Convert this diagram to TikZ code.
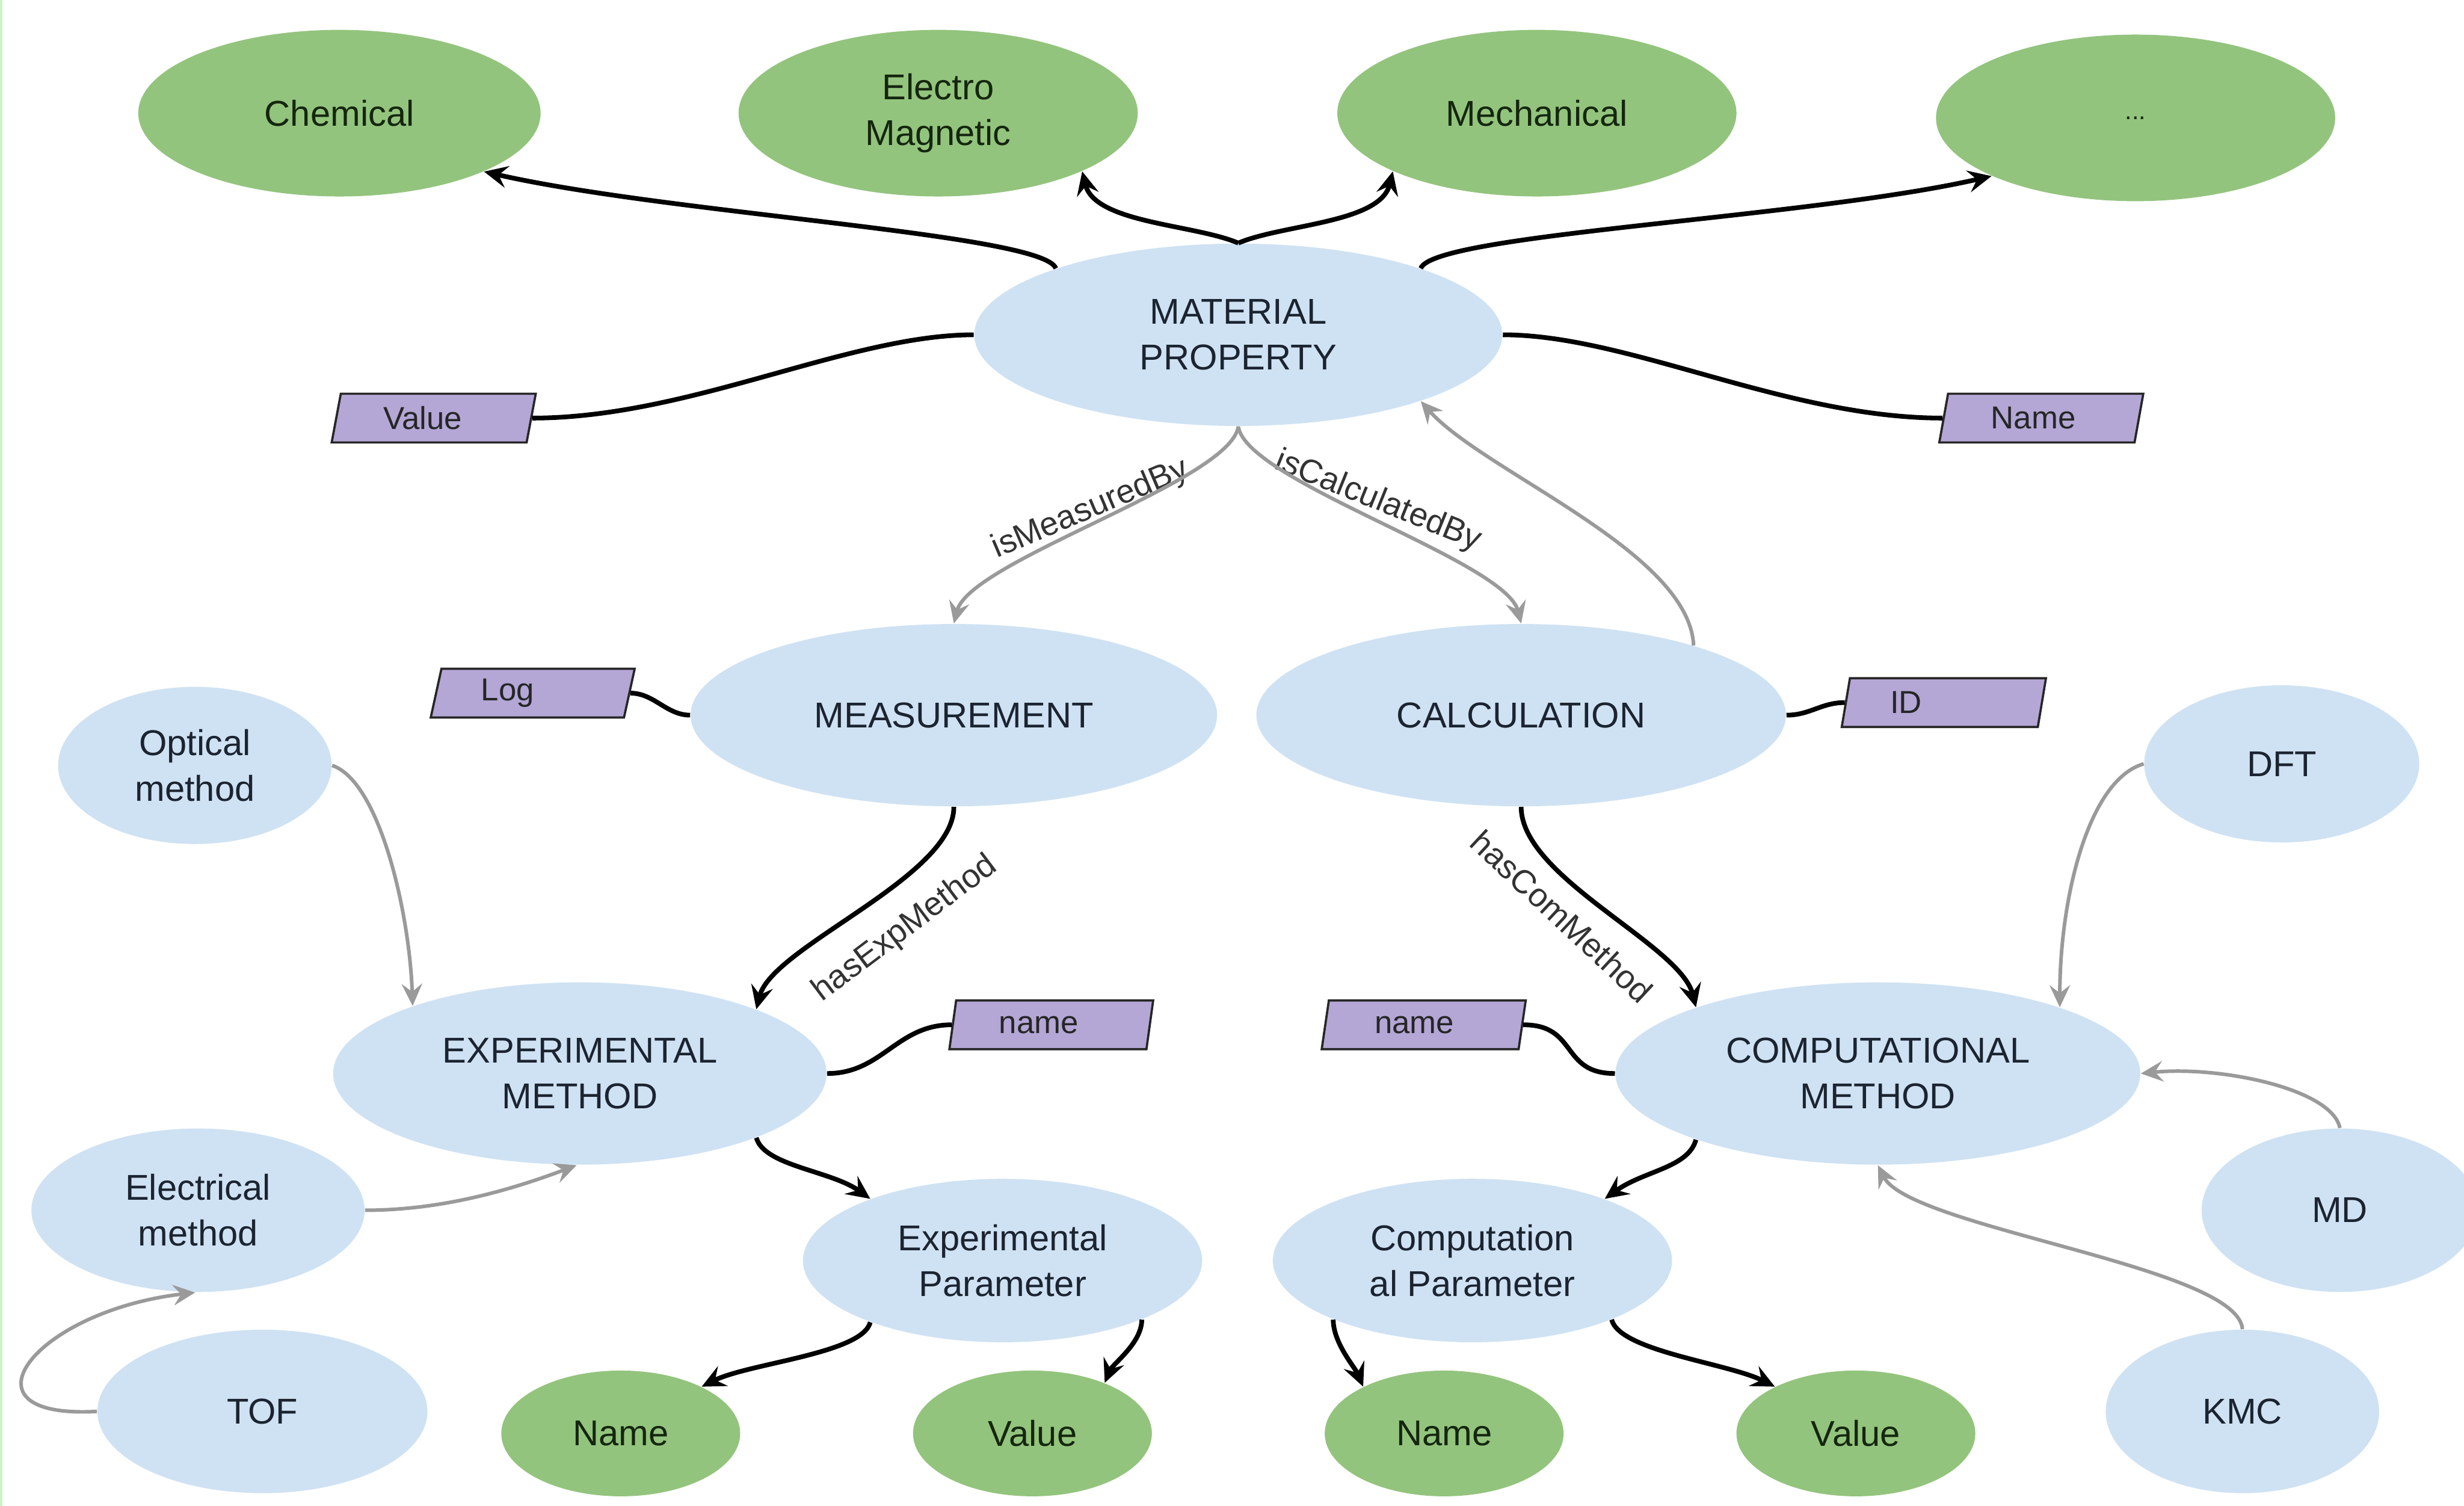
\documentclass[tikz,border=0pt]{standalone}
\usepackage{fontspec}
\setmainfont{Liberation Sans}
\usetikzlibrary{shapes.geometric,arrows.meta}
\definecolor{gfill}{HTML}{93C47D}
\definecolor{bfill}{HTML}{CFE2F3}
\definecolor{pfill}{HTML}{B4A7D6}
\definecolor{garr}{HTML}{9A9A9A}
\definecolor{txt}{HTML}{1B2430}
\definecolor{gtxt}{HTML}{15260F}
\definecolor{edgeline}{HTML}{C8F2C8}
\begin{document}
\begin{tikzpicture}[x=0.2mm,y=-0.2mm,
  every node/.style={font=\fontsize{13}{16.5}\selectfont, text=txt, align=center, inner sep=0pt},
  gell/.style 2 args={ellipse, fill=gfill, text=gtxt, minimum width=#1*0.2mm, minimum height=#2*0.2mm},
  bell/.style 2 args={ellipse, fill=bfill, minimum width=#1*0.2mm, minimum height=#2*0.2mm},
  pbox/.style={trapezium, trapezium left angle=78, trapezium right angle=102,
    trapezium stretches=true, fill=pfill, draw=black!85, line width=0.8pt,
    minimum width=26mm, minimum height=6.2mm, font=\fontsize{11.5}{13}\selectfont, text=black!85},
  blk/.style={draw=black, line width=1.7pt},
  blkarr/.style={blk, -{Stealth[length=3mm,width=2.8mm,inset=1.1mm]}},
  gry/.style={draw=garr, line width=1.3pt},
  gryarr/.style={gry, -{Stealth[length=2.8mm,width=2.6mm,inset=1mm]}},
  lbl/.style={font=\fontsize{12}{14}\selectfont, text=black!80}
]
\useasboundingbox (0,0) rectangle (1568,958);
\fill[white] (0,0) rectangle (1568,958);
\draw[edgeline, line width=1pt] (0.8,0) -- (0.8,958);

% green property ellipses
\node[gell={256}{106}] (chem) at (216,72) {Chemical};
\node[gell={254}{106}] (em) at (597,72) {Electro\\Magnetic};
\node[gell={254}{106}] (mech) at (978,72) {Mechanical};
\node[gell={254}{106}] (dots) at (1359,75) {\fontsize{9}{10}\selectfont ...};

% blue ellipses
\node[bell={336}{116}] (mp) at (788,213) {MATERIAL\\PROPERTY};
\node[bell={335}{116}] (meas) at (607,455) {MEASUREMENT};
\node[bell={337}{116}] (calc) at (968,455) {CALCULATION};
\node[bell={174}{100}] (opt) at (124,487) {Optical\\method};
\node[bell={175}{100}] (dft) at (1452,486) {DFT};
\node[bell={314}{116}] (expm) at (369,683) {EXPERIMENTAL\\METHOD};
\node[bell={334}{116}] (compm) at (1195,683) {COMPUTATIONAL\\METHOD};
\node[bell={212}{104}] (elec) at (126,770) {Electrical\\method};
\node[bell={176}{104}] (md) at (1489,770) {MD};
\node[bell={174}{104}] (kmc) at (1427,898) {KMC};
\node[bell={210}{104}] (tof) at (167,898) {TOF};
\node[bell={254}{104}] (ep) at (638,802) {Experimental\\Parameter};
\node[bell={254}{104}] (cp) at (937,802) {Computation\\al Parameter};

% green leaf ellipses
\node[gell={152}{80}] (nm1) at (395,912) {Name};
\node[gell={152}{80}] (v1) at (657,912) {Value};
\node[gell={152}{80}] (nm2) at (919,912) {Name};
\node[gell={152}{80}] (v2) at (1181,912) {Value};

% purple attribute boxes
\node[pbox] (pval) at (276,266) {Value\hspace{2.8mm}};
\node[pbox] (pname) at (1299,266) {Name\hspace{2mm}};
\node[pbox] (plog) at (339,441) {Log\hspace{6.4mm}};
\node[pbox] (pid) at (1237,447) {ID\hspace{9.6mm}};
\node[pbox] (enm) at (669,652) {name\hspace{3.2mm}};
\node[pbox] (cnm) at (906,652) {name\hspace{2.4mm}};

% edge labels
\node[lbl, rotate=23] (lmeas) at (694,324) {isMeasuredBy};
\node[lbl, rotate=-22] (lcalc) at (877,319) {isCalculatedBy};
\node[lbl, rotate=37] (lexp) at (576,591) {hasExpMethod};
\node[lbl, rotate=-43] (lcom) at (994,583) {hasComMethod};

% black connectors from MATERIAL PROPERTY
\draw[blkarr] (mp.160) .. controls +(-8,-22) and +(118,27) .. (chem.-22);
\draw[blkarr] (mp.north) .. controls +(-28,-12) and +(8,33) .. (em.-22);
\draw[blkarr] (mp.north) .. controls +(28,-12) and +(-8,33) .. (mech.202);
\draw[blkarr] (mp.20) .. controls +(8,-22) and +(-118,27) .. (dots.202);
\draw[blk] (mp.west) .. controls +(-80,0) and +(100,0) .. (pval.east);
\draw[blk] (mp.east) .. controls +(80,0) and +(-100,0) .. (pname.west);

% gray relations
\draw[gryarr] (mp.south) .. controls +(-5,35) and +(10,-40) .. (meas.north);
\draw[gryarr] (mp.south) .. controls +(5,35) and +(-10,-40) .. (calc.north);
\draw[gryarr] (calc.22) .. controls +(-3,-60) and +(40,45) .. (mp.-20);

% black method connectors
\draw[blkarr] (meas.south) .. controls +(0,45) and +(10,-40) .. (expm.20);
\draw[blkarr] (calc.south) .. controls +(0,45) and +(-10,-40) .. (compm.160);
\draw[blk] (expm.east) .. controls +(35,0) and +(-35,0) .. (enm.west);
\draw[blk] (compm.west) .. controls +(-35,0) and +(35,0) .. (cnm.east);
\draw[blk] (meas.west) .. controls +(-15,0) and +(15,0) .. (plog.east);
\draw[blk] (calc.east) .. controls +(15,0) and +(-15,0) .. (pid.west);
\draw[blkarr] (expm.-20) .. controls +(5,18) and +(-25,-18) .. (ep.155);
\draw[blkarr] (compm.200) .. controls +(-5,18) and +(25,-18) .. (cp.25);
\draw[blkarr] (ep.205) .. controls +(-5,20) and +(30,-15) .. (nm1.30);
\draw[blkarr] (ep.-23) .. controls +(0,15) and +(5,-12) .. (v1.35);
\draw[blkarr] (cp.203) .. controls +(0,15) and +(-5,-12) .. (nm2.150);
\draw[blkarr] (cp.-23) .. controls +(5,20) and +(-30,-15) .. (v2.150);

% gray method instances
\draw[gryarr] (opt.east) .. controls +(30,10) and +(-2,-60) .. (expm.158);
\draw[gryarr] (elec.east) .. controls +(50,0) and +(-40,15) .. (expm.-92);
\draw[gryarr] (tof.west) .. controls +(-92,5) and +(-103,12) .. (elec.-92);
\draw[gryarr] (dft.west) .. controls +(-35,10) and +(0,-70) .. (compm.20);
\draw[gryarr] (md.north) .. controls +(-5,-25) and +(50,-5) .. (compm.east);
\draw[gryarr] (kmc.north) .. controls +(-3,-40) and +(20,40) .. (compm.south);
\end{tikzpicture}
\end{document}
